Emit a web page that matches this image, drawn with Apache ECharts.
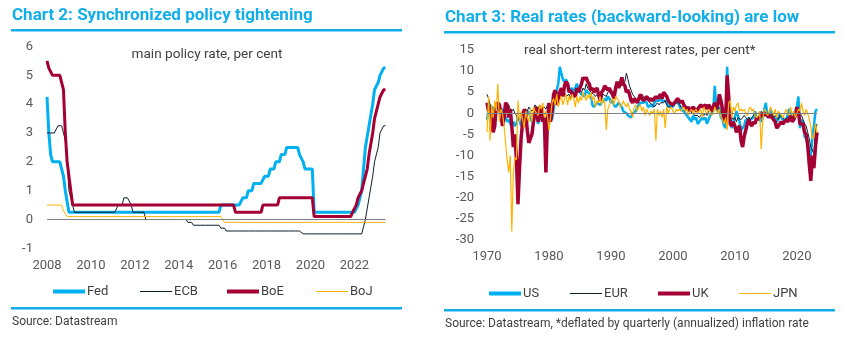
<!DOCTYPE html>
<html>
<head>
<meta charset="utf-8">
<script src="https://cdn.jsdelivr.net/npm/echarts/dist/echarts.min.js"></script>
<style>html,body{margin:0;padding:0;background:#fff}#c{width:845px;height:338px}</style>
</head>
<body>
<div id="c"></div>
<script>
// ---------- Chart 2: policy rates, monthly Jan 2008 - Jun 2023 ----------
const fed = [
4.25,3.0,2.25,2.0,2.0,2.0,2.0,2.0,2.0,1.5,1.0,1.0,
0.25,0.25,0.25,0.25,0.25,0.25,0.25,0.25,0.25,0.25,0.25,0.25,
0.25,0.25,0.25,0.25,0.25,0.25,0.25,0.25,0.25,0.25,0.25,0.25,
0.25,0.25,0.25,0.25,0.25,0.25,0.25,0.25,0.25,0.25,0.25,0.25,
0.25,0.25,0.25,0.25,0.25,0.25,0.25,0.25,0.25,0.25,0.25,0.25,
0.25,0.25,0.25,0.25,0.25,0.25,0.25,0.25,0.25,0.25,0.25,0.25,
0.25,0.25,0.25,0.25,0.25,0.25,0.25,0.25,0.25,0.25,0.25,0.25,
0.25,0.25,0.25,0.25,0.25,0.25,0.25,0.25,0.25,0.25,0.25,0.5,
0.5,0.5,0.5,0.5,0.5,0.5,0.5,0.5,0.5,0.5,0.5,0.75,
0.75,0.75,1.0,1.0,1.0,1.25,1.25,1.25,1.25,1.25,1.25,1.5,
1.5,1.5,1.75,1.75,1.75,2.0,2.0,2.0,2.25,2.25,2.25,2.5,
2.5,2.5,2.5,2.5,2.5,2.5,2.25,2.25,2.0,1.75,1.75,1.75,
1.75,1.75,0.25,0.25,0.25,0.25,0.25,0.25,0.25,0.25,0.25,0.25,
0.25,0.25,0.25,0.25,0.25,0.25,0.25,0.25,0.25,0.25,0.25,0.25,
0.25,0.25,0.5,0.5,1.0,1.75,2.5,2.5,3.25,3.25,4.0,4.5,
4.5,4.75,5.0,5.0,5.25,5.25
];
const ecb = [
3.0,3.0,3.0,3.0,3.0,3.0,3.25,3.25,3.25,3.25,2.75,2.0,
1.0,1.0,0.5,0.25,0.25,0.25,0.25,0.25,0.25,0.25,0.25,0.25,
0.25,0.25,0.25,0.25,0.25,0.25,0.25,0.25,0.25,0.25,0.25,0.25,
0.25,0.25,0.25,0.5,0.5,0.5,0.75,0.75,0.75,0.75,0.5,0.25,
0.25,0.25,0.25,0.25,0.25,0.25,0,0,0,0,0,0,
0,0,0,0,0,0,0,0,0,0,0,0,
0,0,0,0,0,-0.1,-0.1,-0.1,-0.2,-0.2,-0.2,-0.2,
-0.2,-0.2,-0.2,-0.2,-0.2,-0.2,-0.2,-0.2,-0.2,-0.2,-0.2,-0.3,
-0.3,-0.3,-0.4,-0.4,-0.4,-0.4,-0.4,-0.4,-0.4,-0.4,-0.4,-0.4,
-0.4,-0.4,-0.4,-0.4,-0.4,-0.4,-0.4,-0.4,-0.4,-0.4,-0.4,-0.4,
-0.4,-0.4,-0.4,-0.4,-0.4,-0.4,-0.4,-0.4,-0.4,-0.4,-0.4,-0.4,
-0.4,-0.4,-0.4,-0.4,-0.4,-0.4,-0.4,-0.4,-0.5,-0.5,-0.5,-0.5,
-0.5,-0.5,-0.5,-0.5,-0.5,-0.5,-0.5,-0.5,-0.5,-0.5,-0.5,-0.5,
-0.5,-0.5,-0.5,-0.5,-0.5,-0.5,-0.5,-0.5,-0.5,-0.5,-0.5,-0.5,
-0.5,-0.5,-0.5,-0.5,-0.5,-0.5,0,0,0.75,0.75,1.5,2.0,
2.0,2.5,3.0,3.0,3.25,3.25
];
const boe = [
5.5,5.25,5.25,5.0,5.0,5.0,5.0,5.0,5.0,4.5,3.0,2.0,
1.5,1.0,0.5,0.5,0.5,0.5,0.5,0.5,0.5,0.5,0.5,0.5,
0.5,0.5,0.5,0.5,0.5,0.5,0.5,0.5,0.5,0.5,0.5,0.5,
0.5,0.5,0.5,0.5,0.5,0.5,0.5,0.5,0.5,0.5,0.5,0.5,
0.5,0.5,0.5,0.5,0.5,0.5,0.5,0.5,0.5,0.5,0.5,0.5,
0.5,0.5,0.5,0.5,0.5,0.5,0.5,0.5,0.5,0.5,0.5,0.5,
0.5,0.5,0.5,0.5,0.5,0.5,0.5,0.5,0.5,0.5,0.5,0.5,
0.5,0.5,0.5,0.5,0.5,0.5,0.5,0.5,0.5,0.5,0.5,0.5,
0.5,0.5,0.5,0.5,0.5,0.5,0.5,0.25,0.25,0.25,0.25,0.25,
0.25,0.25,0.25,0.25,0.25,0.25,0.25,0.25,0.25,0.25,0.5,0.5,
0.5,0.5,0.5,0.5,0.5,0.5,0.5,0.75,0.75,0.75,0.75,0.75,
0.75,0.75,0.75,0.75,0.75,0.75,0.75,0.75,0.75,0.75,0.75,0.75,
0.75,0.75,0.1,0.1,0.1,0.1,0.1,0.1,0.1,0.1,0.1,0.1,
0.1,0.1,0.1,0.1,0.1,0.1,0.1,0.1,0.1,0.1,0.1,0.25,
0.25,0.5,0.75,0.75,1.0,1.25,1.25,1.75,2.25,2.25,3.0,3.5,
3.5,4.0,4.25,4.25,4.5,4.5
];
const boj = [
0.5,0.5,0.5,0.5,0.5,0.5,0.5,0.5,0.5,0.3,0.3,0.1,
0.1,0.1,0.1,0.1,0.1,0.1,0.1,0.1,0.1,0.1,0.1,0.1,
0.1,0.1,0.1,0.1,0.1,0.1,0.1,0.1,0.1,0.1,0.1,0.1,
0.1,0.1,0.1,0.1,0.1,0.1,0.1,0.1,0.1,0.1,0.1,0.1,
0.1,0.1,0.1,0.1,0.1,0.1,0.1,0.1,0.1,0.1,0.1,0.1,
0.1,0.1,0.1,0.1,0.1,0.1,0.1,0.1,0.1,0.1,0.1,0.1,
0.1,0.1,0.1,0.1,0.1,0.1,0.1,0.1,0.1,0.1,0.1,0.1,
0.1,0.1,0.1,0.1,0.1,0.1,0.1,0.1,0.1,0.1,0.1,0.1,
0.1,-0.1,-0.1,-0.1,-0.1,-0.1,-0.1,-0.1,-0.1,-0.1,-0.1,-0.1,
-0.1,-0.1,-0.1,-0.1,-0.1,-0.1,-0.1,-0.1,-0.1,-0.1,-0.1,-0.1,
-0.1,-0.1,-0.1,-0.1,-0.1,-0.1,-0.1,-0.1,-0.1,-0.1,-0.1,-0.1,
-0.1,-0.1,-0.1,-0.1,-0.1,-0.1,-0.1,-0.1,-0.1,-0.1,-0.1,-0.1,
-0.1,-0.1,-0.1,-0.1,-0.1,-0.1,-0.1,-0.1,-0.1,-0.1,-0.1,-0.1,
-0.1,-0.1,-0.1,-0.1,-0.1,-0.1,-0.1,-0.1,-0.1,-0.1,-0.1,-0.1,
-0.1,-0.1,-0.1,-0.1,-0.1,-0.1,-0.1,-0.1,-0.1,-0.1,-0.1,-0.1,
-0.1,-0.1,-0.1,-0.1,-0.1,-0.1
];
const months = [];
for (let y = 2008; y <= 2023; y++) for (let m = 1; m <= 12; m++) {
  if (months.length < fed.length) months.push(y + '-' + String(m).padStart(2, '0'));
}
const policyNames = ['Fed', 'ECB', 'BoE', 'BoJ'];
const policyTicks = [-1, 6, 1]; // min, max, step

// ---------- Chart 3: real short-term rates, quarterly 1970Q1 - 2023Q2 ----------
const us = [
-1.5,1.0,2.0,0.5, 1.5,0.0,1.0,1.5, 0.5,0.5,1.0,0.0, -1.0,-2.0,-1.5,-2.5,
-3.0,-2.0,-3.0,-2.5, -1.0,-1.5,-3.0,-1.0, 0.0,-0.5,-0.5,0.5, -1.0,-2.0,-0.5,-0.5,
-1.0,-2.5,-1.5,-0.5, -1.0,-2.5,-1.5,-1.0, -2.5,-1.0,-1.5,1.0, 3.5,5.5,7.0,11.0,
9.5,8.0,7.5,8.0, 7.0,6.0,5.5,6.0, 5.0,6.0,7.0,6.0, 5.0,4.5,4.5,4.0,
5.5,5.0,5.0,4.5, 2.0,1.5,1.5,2.5, 2.5,2.0,2.0,3.0, 3.5,3.0,4.0,3.5,
2.5,3.0,2.0,1.5, 2.0,2.5,2.0,1.5, 0.5,0.5,0.0,-0.5, -0.5,-1.0,0.0,0.0,
0.5,1.5,1.5,2.5, 2.5,2.5,3.0,2.5, 1.5,1.5,2.0,1.5, 2.5,3.0,3.0,3.0,
3.5,3.0,3.0,3.0, 2.5,1.5,2.0,2.0, 1.5,2.5,2.5,2.5, 2.0,1.0,1.0,0.5,
0.5,-0.5,-1.0,-1.0, -2.0,-0.5,-1.5,-1.0, -2.5,-2.5,-1.5,-1.0, -1.5,-1.0,-2.5,-1.5,
-0.5,-0.5,0.5,6.5, 1.5,0.5,1.5,-1.0, -1.5,-3.0,-3.5,11.0, 1.5,-1.0,-3.5,-2.0,
-1.0,0.5,-0.5,-2.0, -4.0,-3.5,-3.0,-1.5, -2.0,-1.0,-1.5,-1.5, -1.0,0.5,-1.5,-1.0,
-1.5,-2.0,-1.0,1.0, 2.5,-1.0,-0.5,1.0, 0.0,-1.5,-1.0,-2.0, -1.5,0.0,-1.0,-1.5,
-1.5,-1.5,-0.5,1.0, 1.0,-0.5,-0.5,-0.5, 1.5,4.0,-3.5,-1.5, -2.0,-5.5,-6.0,-7.0,
-9.0,-10.0,-6.0,-3.0, 0.5,1.0
];
const eur = [
4.5,3.5,2.0,1.5, 0.5,0.0,1.0,1.5, 0.5,1.0,0.0,1.0, 0.5,1.5,2.0,1.0,
0.5,1.0,0.0,-0.5, -1.5,-1.0,-0.5,0.5, 0.0,1.0,0.5,1.5, 1.0,0.5,1.0,2.0,
1.5,1.0,2.0,1.0, 1.0,1.5,1.0,2.0, 0.5,2.0,2.5,4.0, 3.5,5.0,5.0,4.5,
4.5,5.5,5.0,4.0, 4.0,4.5,3.5,4.5, 5.0,4.5,5.5,5.0, 5.5,5.0,6.0,5.5,
7.0,6.0,5.5,5.0, 5.0,4.5,4.0,4.5, 4.0,4.0,3.5,4.5, 4.5,4.0,5.0,5.0,
5.5,5.5,5.0,6.0, 6.5,6.5,7.0,6.5, 7.0,7.5,9.5,8.0, 6.5,5.5,4.5,4.0,
3.5,3.5,3.0,3.5, 4.5,4.0,3.5,3.5, 3.0,2.5,2.5,2.0, 1.5,2.0,2.5,2.0,
2.5,2.5,2.5,3.0, 2.0,1.5,1.5,1.5, 1.5,2.0,2.5,2.5, 2.5,1.5,1.5,1.5,
0.5,1.0,1.0,0.5, 0.5,0.0,-0.5,-0.5, -0.5,-1.0,-0.5,0.0, -0.5,0.0,-0.5,0.5,
1.0,0.5,1.0,1.5, 1.0,1.5,1.0,0.0, 0.5,0.0,1.0,5.0, 2.0,0.5,-1.0,-1.5,
-1.0,-2.0,-1.0,-1.0, -1.5,-1.0,-0.5,-1.0, -1.5,-1.0,-1.5,-1.0, -0.5,-0.5,0.0,0.0,
0.0,0.5,0.0,0.5, 0.5,-0.5,0.0,-0.5, 0.0,-1.0,-0.5,-1.0, -1.5,-0.5,-0.5,-1.0,
-1.5,-1.5,-1.0,-1.0, -0.5,-1.5,-0.5,-1.0, -1.0,1.0,0.0,-0.5, -1.5,-2.5,-3.0,-4.5,
-6.0,-8.0,-8.0,-9.5, -4.0,-2.5
];
const uk = [
2.5,0.5,1.5,-1.0, -4.5,-3.0,2.0,2.5, 2.0,0.0,-3.0,-1.0, 2.5,2.0,-1.0,1.0,
-3.0,-8.0,-5.0,-11.0, -21.5,-13.0,-6.0,-2.0, 1.0,0.0,-4.0,-7.0, -7.0,-5.0,-2.0,0.0,
1.5,-2.0,0.0,1.5, -2.0,-1.0,-14.0,-2.0, 2.5,-2.0,0.5,4.5, 5.5,2.0,3.5,5.0,
6.0,4.0,6.5,7.5, 7.0,5.0,5.5,4.5, 4.5,4.0,6.0,5.0, 6.0,7.0,8.5,8.0,
8.5,7.5,7.0,5.5, 6.0,5.0,5.5,6.0, 4.5,3.0,5.0,5.5, 6.5,6.0,5.5,6.0,
5.0,4.5,3.5,6.0, 7.5,6.0,7.0,8.5, 7.0,6.5,5.0,5.5, 4.5,3.0,2.5,3.5,
3.5,2.5,3.5,4.5, 3.5,3.0,3.5,4.0, 3.5,3.0,3.5,3.0, 3.5,4.0,3.5,4.0,
4.5,3.5,5.0,5.0, 4.0,3.0,2.5,2.5, 2.0,2.5,3.0,3.5, 3.0,2.5,3.0,2.0,
1.5,1.0,1.5,0.5, 0.5,1.5,1.0,0.5, 1.0,1.5,2.0,1.5, 1.5,2.0,1.0,2.0,
1.5,0.5,1.5,2.5, 1.0,2.0,4.5,3.0, 1.0,-1.0,-2.0,9.0, 4.0,-2.5,-3.0,-2.0,
-3.0,-4.5,-3.5,-3.0, -6.5,-8.0,-5.5,-4.0, -2.5,-1.5,-2.5,-3.0, -2.0,-2.5,-1.0,-1.5,
-1.0,-1.0,0.0,-0.5, 0.0,-0.5,-1.0,-0.5, -0.5,-1.5,-2.0,-3.5, -3.0,-2.5,-2.0,-2.5,
-2.0,-1.5,-2.0,-1.5, -0.5,-2.0,-1.5,-0.5, 1.5,0.5,-2.5,-2.5, -2.5,-4.5,-5.0,-7.5,
-12.0,-16.0,-10.0,-13.0, -8.0,-4.5
];
const jpn = [
-4.5,4.0,-6.5,2.0, -1.0,3.0,0.5,7.0, -2.0,1.0,0.0,-3.0, -3.0,-11.0,-14.0,-10.0,
-28.0,-14.0,-10.5,-11.0, 3.0,-2.0,0.5,-1.5, -3.5,0.5,-1.0,-2.0, 1.0,-2.0,1.5,0.5,
0.5,-0.5,2.0,1.0, 2.5,-1.0,0.5,-0.5, -4.0,-1.0,2.5,3.5, 2.0,4.5,1.5,3.0,
4.0,2.0,3.5,4.5, 2.0,4.0,3.0,4.5, 3.5,1.5,4.0,2.5, 4.0,3.0,5.0,4.0,
3.0,4.5,3.5,5.0, 3.0,4.0,1.5,3.0, 2.5,4.0,2.0,3.5, 2.5,-4.0,1.0,2.0,
3.0,3.5,2.0,4.0, 3.5,3.0,1.5,2.0, 3.0,2.0,1.5,2.5, 1.0,0.5,-1.0,1.5,
2.0,0.5,1.5,2.0, 0.5,1.5,-0.5,1.0, 1.0,-0.5,0.5,0.0, 1.0,-6.5,1.0,-0.5,
0.5,-1.0,1.0,-3.5, 1.5,0.0,1.0,1.5, 0.5,0.0,1.0,0.5, 1.0,0.5,0.5,1.5,
0.5,1.0,-0.5,0.5, 1.0,0.0,0.5,1.0, 0.0,0.5,1.0,-1.0, 1.5,0.5,0.0,1.0,
0.5,-0.5,0.0,1.5, 0.5,0.0,1.0,-1.0, -1.5,-2.5,-1.0,-4.0, 2.5,3.0,-1.0,1.5,
0.5,2.0,2.5,0.5, 1.0,0.5,1.0,0.0, -0.5,1.0,1.5,0.5, 1.0,-0.5,-1.0,-0.5,
0.5,-8.5,-1.5,1.0, 0.5,-0.5,0.0,1.5, 0.5,-0.5,1.0,-1.0, 0.5,0.0,-0.5,-1.0,
-1.0,1.0,0.0,-0.5, 1.5,-0.5,0.5,-1.0, 0.0,1.0,0.5,2.5, 0.5,-0.5,1.0,0.0,
-1.5,-3.0,-6.0,-5.5, -2.5,-4.5
];
const quarters = [];
for (let y = 1970; y <= 2023; y++) for (let q = 1; q <= 4; q++) {
  if (quarters.length < us.length) quarters.push(y + 'Q' + q);
}
const realNames = ['US', 'EUR', 'UK', 'JPN'];
const realTicks = [-30, 15, 5];

// ---------- styling ----------
const BLUE = '#00B0F0', NAVY = '#0D1F2D', RED = '#A50034', GOLD = '#FFB300';
const TITLE = '#12AEEA', TXT = '#404040', AX = '#595959';
const FONT = 'Roboto';

function lineSeries(name, data, color, width, xi, zero) {
  const s = {
    name, type: 'line', data, xAxisIndex: xi, yAxisIndex: xi,
    showSymbol: false, symbol: 'none', color,
    lineStyle: { color, width }, animation: false, silent: true
  };
  if (zero) s.markLine = {
    silent: true, symbol: 'none', label: { show: false },
    lineStyle: { color: '#808080', width: 1, type: 'solid' },
    data: [{ yAxis: 0 }], animation: false
  };
  return s;
}
function legendAt(name, left, top, h) {
  return {
    data: [name], left, top, icon: 'rect', itemWidth: 32, itemHeight: h,
    itemStyle: { borderWidth: 0 }, selectedMode: false,
    textStyle: { fontFamily: FONT, fontSize: 13, color: TXT, padding: [0, 0, 0, -3] }
  };
}
const xCommon = {
  type: 'category', boundaryGap: false,
  axisLine: { show: false }, axisTick: { show: false }, splitLine: { show: false }
};
const yCommon = {
  type: 'value', axisLine: { show: false }, axisTick: { show: false }, splitLine: { show: false }
};

const chart = echarts.init(document.getElementById('c'));
chart.setOption({
  animation: false,
  textStyle: { fontFamily: FONT },
  grid: [
    { left: 47, top: 46.5, width: 338.5, height: 201.8 },
    { left: 487, top: 50, width: 330, height: 190 }
  ],
  xAxis: [
    Object.assign({}, xCommon, { gridIndex: 0, data: months,
      axisLabel: { interval: (i) => i % 24 === 0, formatter: (v) => v.slice(0, 4),
        fontFamily: FONT, fontSize: 13, color: AX, margin: 11 } }),
    Object.assign({}, xCommon, { gridIndex: 1, data: quarters,
      axisLabel: { interval: (i) => i % 40 === 0, formatter: (v) => v.slice(0, 4),
        fontFamily: FONT, fontSize: 13, color: AX, margin: 10 } })
  ],
  yAxis: [
    Object.assign({}, yCommon, { gridIndex: 0, min: policyTicks[0], max: policyTicks[1], interval: policyTicks[2],
      axisLabel: { fontFamily: FONT, fontSize: 13, color: AX, margin: 14 } }),
    Object.assign({}, yCommon, { gridIndex: 1, min: realTicks[0], max: realTicks[1], interval: realTicks[2],
      axisLabel: { fontFamily: FONT, fontSize: 13, color: AX, margin: 13 } })
  ],
  legend: [
    legendAt('Fed', 48, 280, 4), legendAt('ECB', 135, 280, 1),
    legendAt('BoE', 222, 280, 4), legendAt('BoJ', 311, 280, 1),
    legendAt('US', 484, 282, 4), legendAt('EUR', 565, 282, 1),
    legendAt('UK', 653, 282, 4), legendAt('JPN', 734, 282, 1)
  ],
  series: [
    lineSeries('Fed', fed, BLUE, 3, 0, true),
    lineSeries('ECB', ecb, NAVY, 1, 0),
    lineSeries('BoE', boe, RED, 3, 0),
    lineSeries('BoJ', boj, GOLD, 1, 0),
    lineSeries('US', us, BLUE, 2.5, 1, true),
    lineSeries('EUR', eur, NAVY, 1, 1),
    lineSeries('UK', uk, RED, 3.5, 1),
    lineSeries('JPN', jpn, GOLD, 1.2, 1)
  ],
  graphic: [
    { type: 'text', x: 12, y: 16, silent: true,
      style: { text: 'Chart 2: Synchronized policy tightening', font: 'bold 17px Roboto', fill: TITLE, verticalAlign: 'middle' } },
    { type: 'rect', silent: true, shape: { x: 11, y: 29, width: 391, height: 2.5 }, style: { fill: TITLE } },
    { type: 'text', x: 207, y: 55, silent: true,
      style: { text: 'main policy rate, per cent', font: '13.6px Roboto', fill: TXT, align: 'center', verticalAlign: 'middle' } },
    { type: 'rect', silent: true, shape: { x: 11, y: 307, width: 391, height: 2.5 }, style: { fill: TITLE } },
    { type: 'text', x: 12, y: 322, silent: true,
      style: { text: 'Source: Datastream', font: '12px Roboto', fill: TXT, verticalAlign: 'middle' } },

    { type: 'text', x: 445, y: 18, silent: true,
      style: { text: 'Chart 3: Real rates (backward-looking) are low', font: 'bold 17px Roboto', fill: TITLE, verticalAlign: 'middle' } },
    { type: 'rect', silent: true, shape: { x: 444, y: 31, width: 391, height: 2.5 }, style: { fill: TITLE } },
    { type: 'text', x: 524, y: 51, silent: true,
      style: { text: 'real short-term interest rates, per cent*', font: '13.5px Roboto', fill: TXT, verticalAlign: 'middle' } },
    { type: 'rect', silent: true, shape: { x: 444, y: 309, width: 391, height: 2.5 }, style: { fill: TITLE } },
    { type: 'text', x: 445, y: 324, silent: true,
      style: { text: 'Source: Datastream, *deflated by quarterly (annualized) inflation rate', font: '12px Roboto', fill: TXT, verticalAlign: 'middle' } }
  ]
});
</script>
</body>
</html>
